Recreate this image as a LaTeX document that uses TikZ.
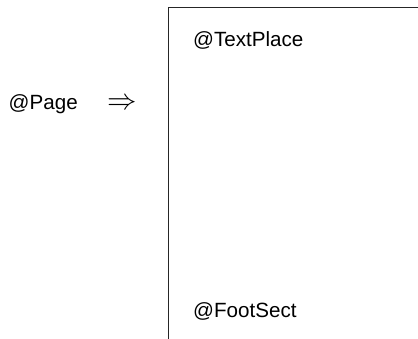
\documentclass[tikz,border=0pt]{standalone}
\usepackage{fontspec}
\usepackage{graphicx}
\setmainfont{Liberation Sans}
\tikzset{
  lbl/.style={inner sep=0pt, anchor=base west, font=\fontsize{20.6}{24}\selectfont},
  frame/.style={line width=1pt, draw=black!85}
}
\begin{document}
\begin{tikzpicture}[x=1pt,y=-1pt]
  \useasboundingbox (0,0) rectangle (418,339);
  \coordinate (tr) at (418,8);
  \coordinate (tl) at (168,8);
  \coordinate (bl) at (168,339);
  \draw[frame] (tr) -- (tl) -- (bl);
  \node[lbl] (page) at (8.5,110) {@Page};
  \node[inner sep=0pt] (arr) at (122.5,104.5) {\scalebox{1.42}{\fontsize{20}{24}\selectfont$\Rightarrow$}};
  \node[lbl] (textplace) at (193,47) {@TextPlace};
  \node[lbl] (footsect) at (193,317) {@FootSect};
\end{tikzpicture}
\end{document}
